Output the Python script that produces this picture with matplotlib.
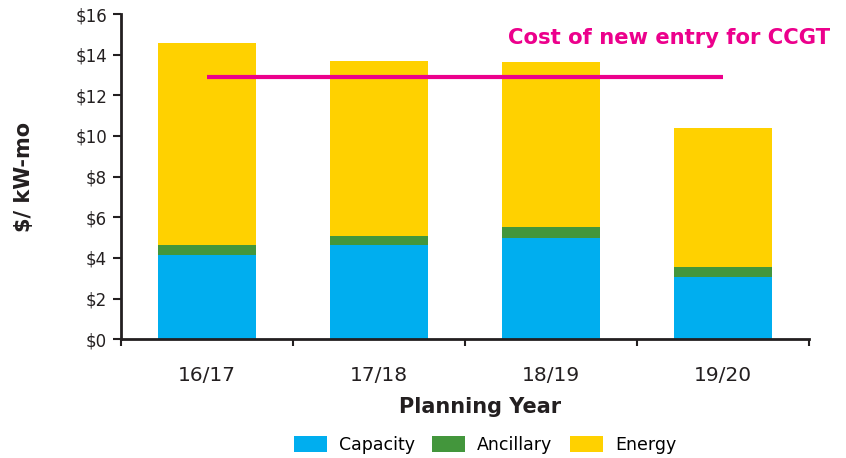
import numpy as np
import matplotlib
matplotlib.use('Agg')
import matplotlib.pyplot as plt

### Data ###
years = ['16/17', '17/18', '18/19', '19/20']
capacity = [4.15, 4.64, 5.00, 3.06]
ancillary = [0.49, 0.44, 0.52, 0.50]
energy = [9.93, 8.61, 8.12, 6.83]
cone_ccgt = 12.9
cone_label = 'Cost of new entry for CCGT'

blue = '#00AEEF'
green = '#43963C'
yellow = '#FFD100'
pink = '#EC008C'
dark = '#231F20'

plt.rcParams['font.family'] = ['DejaVu Sans']

fig = plt.figure(figsize=(8.46, 4.58), dpi=100)
ax = fig.add_axes([121/846, 1 - 339.3/458, 688/846, (339.3 - 14)/458])

x = np.arange(len(years))
w = 0.564
cap = np.array(capacity)
anc = np.array(ancillary)
en = np.array(energy)

ax.bar(x, cap, w, color=blue, label='Capacity')
ax.bar(x, anc, w, bottom=cap, color=green, label='Ancillary')
ax.bar(x, en, w, bottom=cap + anc, color=yellow, label='Energy')

# cost of new entry line
ax.plot([x[0], x[-1]], [cone_ccgt, cone_ccgt], color=pink, lw=3, solid_capstyle='butt')
ax.text(3.622, 14.8, cone_label, color=pink, fontsize=15.2, fontweight='bold',
        ha='right', va='center')

ax.set_xlim(-0.5, 3.5)
ax.set_ylim(0, 16)
ax.set_yticks(np.arange(0, 17, 2))
ax.set_yticklabels(['$%d' % v for v in range(0, 17, 2)], fontsize=12, color=dark)
ax.tick_params(axis='y', direction='out', length=6, width=1.5, color=dark, pad=4)

ax.set_xticks(x)
ax.set_xticklabels(years, fontsize=14.5, color=dark)
ax.tick_params(axis='x', which='major', length=0, pad=19)
ax.set_xticks(np.arange(-0.5, 3.6, 1), minor=True)
ax.tick_params(axis='x', which='minor', direction='out', length=5, width=1.5, color=dark)

for s in ['top', 'right']:
    ax.spines[s].set_visible(False)
for s in ['left', 'bottom']:
    ax.spines[s].set_linewidth(2)
    ax.spines[s].set_color(dark)

ax.set_xlabel('Planning Year', fontsize=15, fontweight='bold', color=dark)
ax.xaxis.set_label_coords(0.522, -0.177)
ax.set_ylabel('$/ kW-mo', fontsize=15, fontweight='bold', color=dark)
ax.yaxis.set_label_coords(-0.126, 0.5)

fig.legend(loc='center', bbox_to_anchor=(485/846, 1 - 445/458), ncol=3, frameon=False,
           fontsize=12.5, handlelength=1.9, handleheight=1.0, columnspacing=1.0,
           handletextpad=0.7)

fig.savefig('out.png', dpi=100)
